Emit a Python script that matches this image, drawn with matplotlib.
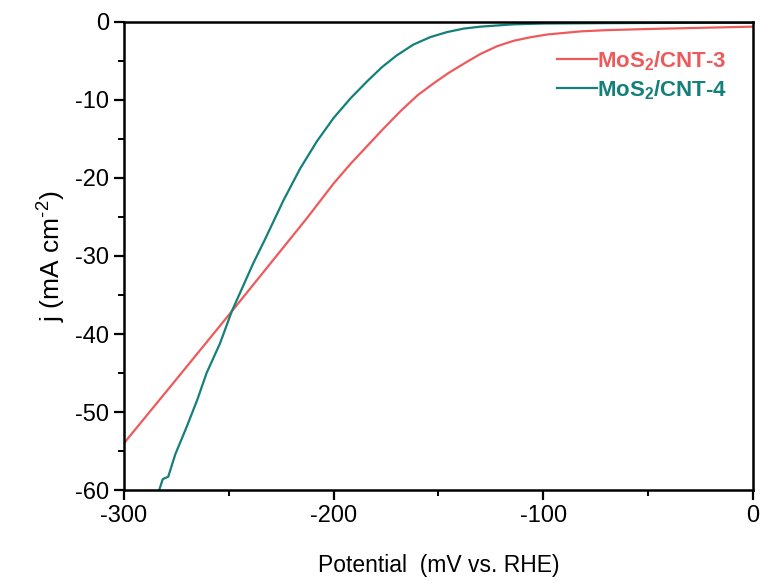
import matplotlib.pyplot as plt
from matplotlib.ticker import MultipleLocator

plt.rcParams["font.family"] = ["Liberation Sans", "DejaVu Sans"]
plt.rcParams["axes.unicode_minus"] = False
plt.rcParams["mathtext.fontset"] = "custom"
plt.rcParams["mathtext.rm"] = "Liberation Sans"
plt.rcParams["mathtext.bf"] = "Liberation Sans:bold"

# ── Data (potential in mV vs. RHE, j in mA cm^-2) ──
cnt3_v = [-300, -275, -248.6, -230, -212.9, -200, -192, -184, -176, -168,
          -160, -152, -145, -137, -130, -122, -114, -106, -98, -90, -82,
          -70, -50, -25, 0]
cnt3_j = [-54.0, -45.8, -37.1, -30.9, -25.2, -20.7, -18.2, -15.9, -13.6, -11.4,
          -9.4, -7.8, -6.5, -5.2, -4.1, -3.1, -2.4, -1.95, -1.6, -1.4, -1.2,
          -1.05, -0.9, -0.75, -0.6]

cnt4_v = [-283.2, -281.5, -278.9, -275.5, -270.1, -265, -260.6, -254.2,
          -248.6, -238.3, -232.8, -224.0, -216, -208, -200, -192, -184,
          -177, -170, -162, -154, -146, -138, -130, -114, -100, -70, -30, 0]
cnt4_j = [-60.0, -58.6, -58.3, -55.4, -51.9, -48.4, -45.0, -41.2,
          -37.1, -30.9, -27.9, -22.9, -18.8, -15.3, -12.3, -9.8, -7.6,
          -5.8, -4.3, -2.9, -1.95, -1.3, -0.85, -0.6, -0.3, -0.2, -0.15, -0.1, -0.1]

C_RED = "#EE5A5C"
C_TEAL = "#13807A"

fig = plt.figure(figsize=(7.63, 5.86), dpi=100)
ax = fig.add_axes([0.1625, 0.1638, 0.8244, 0.7987])

ax.plot(cnt3_v, cnt3_j, color=C_RED, lw=1.6, label=r"MoS$_\mathbf{2}$/CNT-3")
ax.plot(cnt4_v, cnt4_j, color=C_TEAL, lw=1.6, label=r"MoS$_\mathbf{2}$/CNT-4")

ax.set_xlim(-300, 0)
ax.set_ylim(-60, 0)
ax.xaxis.set_major_locator(MultipleLocator(100))
ax.xaxis.set_minor_locator(MultipleLocator(50))
ax.yaxis.set_major_locator(MultipleLocator(10))
ax.yaxis.set_minor_locator(MultipleLocator(5))
ax.tick_params(which="major", direction="out", length=7, width=1.6,
               labelsize=17, top=False, right=False)
ax.tick_params(which="minor", direction="out", length=4, width=1.4,
               top=False, right=False)
for sp in ax.spines.values():
    sp.set_linewidth(1.8)

ax.set_xlabel("Potential  (mV vs. RHE)", fontsize=16.5, labelpad=20)
ax.set_ylabel(r"j (mA cm$^{\text{-}2}$)", fontsize=19, labelpad=6)

leg = ax.legend(loc="upper right", bbox_to_anchor=(0.99, 0.985), frameon=False,
                handlelength=1.8, handletextpad=0.0, labelspacing=0.25,
                prop={"weight": "bold", "size": 16}, labelcolor="linecolor")

fig.savefig("out.png", dpi=100)
